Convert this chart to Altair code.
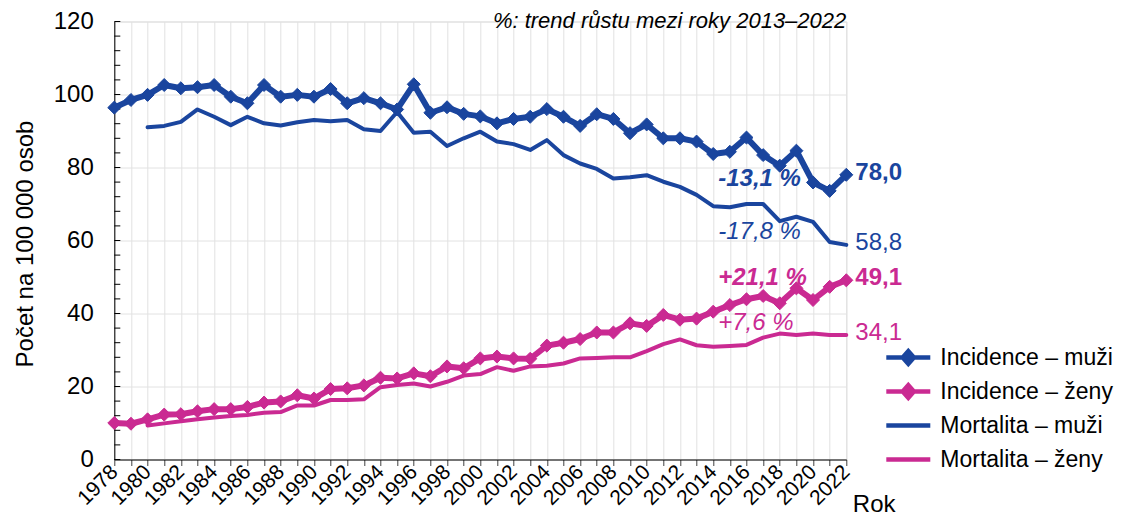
import altair as alt
import pandas as pd

# ---------------- data ----------------
years = list(range(1978, 2023))
years_mort = list(range(1980, 2023))

inc_m = [96.4, 98.5, 99.9, 102.6, 101.7, 102.0, 102.6, 99.4, 97.6, 102.6,
         99.4, 99.9, 99.4, 101.5, 97.6, 99.0, 97.6, 95.9, 102.8, 95.0,
         96.5, 94.7, 94.0, 92.1, 93.3, 93.9, 96.0, 93.9, 91.4, 94.6,
         93.3, 89.4, 91.8, 88.0, 88.0, 87.1, 83.7, 84.3, 88.2, 83.4,
         80.5, 84.6, 75.9, 73.6, 78.0]
inc_f = [10.0, 9.8, 11.0, 12.3, 12.4, 13.2, 13.8, 13.8, 14.4, 15.6,
         15.9, 17.6, 16.7, 19.3, 19.5, 20.3, 22.4, 22.2, 23.6, 22.8,
         25.5, 25.0, 27.7, 28.2, 27.7, 27.6, 31.2, 32.0, 33.0, 34.8,
         34.8, 37.3, 36.6, 39.6, 38.3, 38.6, 40.5, 42.3, 43.9, 44.8,
         42.8, 46.9, 43.7, 47.3, 49.1]
mort_m = [91.0, 91.4, 92.5, 95.9, 93.9, 91.6, 93.9, 92.1, 91.5, 92.4,
          93.0, 92.7, 93.0, 90.5, 90.0, 95.2, 89.5, 89.8, 85.9, 88.0,
          89.8, 87.1, 86.4, 84.8, 87.5, 83.4, 81.1, 79.6, 77.0, 77.3,
          77.9, 76.1, 74.7, 72.5, 69.4, 69.1, 70.0, 70.0, 65.3, 66.5,
          65.1, 59.6, 58.8]
mort_f = [9.3, 9.9, 10.5, 11.0, 11.5, 11.9, 12.2, 12.8, 13.0, 14.8,
          14.8, 16.3, 16.3, 16.5, 19.8, 20.4, 20.8, 20.0, 21.3, 23.0,
          23.4, 25.3, 24.3, 25.5, 25.7, 26.3, 27.7, 27.8, 28.0, 28.0,
          29.7, 31.6, 32.9, 31.3, 30.9, 31.1, 31.4, 33.4, 34.5, 34.1,
          34.5, 34.1, 34.1]

series_names = ["Incidence – muži", "Incidence – ženy",
                "Mortalita – muži", "Mortalita – ženy"]
trend_texts = ["-13,1 %", "+21,1 %", "-17,8 %", "+7,6 %"]
trend_start_year = 2014
y_label_values = [0, 20, 40, 60, 80, 100, 120]
y_minor_values = list(range(0, 121, 4))
title_text = "%: trend růstu mezi roky 2013–2022"

# ---------------- styles ----------------
BLUE = "#1A459E"
PINK = "#CA2A92"
GRID = "#e2e2e2"
FONT = "Liberation Sans"
colors = [BLUE, PINK, BLUE, PINK]
W, H = 732, 438

rows = []
for name, yrs, vals in [(series_names[0], years, inc_m),
                        (series_names[1], years, inc_f),
                        (series_names[2], years_mort, mort_m),
                        (series_names[3], years_mort, mort_f)]:
    for yr, v in zip(yrs, vals):
        rows.append({"serie": name, "rok": yr, "hodnota": v})
df = pd.DataFrame(rows)

xscale = alt.Scale(domain=[1978, 2022], nice=False, zero=False)
yscale = alt.Scale(domain=[0, 120], nice=False, zero=True)

X = alt.X("rok:Q", scale=xscale, title="Rok",
          axis=alt.Axis(values=years, format="d",
                        labelExpr="datum.value % 2 == 0 ? datum.label : ''",
                        labelAngle=-45, labelAlign="right", labelBaseline="middle",
                        labelFont=FONT, labelFontSize=21, labelColor="#000",
                        labelPadding=3, labelOverlap=False, labelFlush=False,
                        tickSize=6, tickColor="#404040", domainColor="#000",
                        grid=True, gridColor=GRID,
                        titleFont=FONT, titleFontSize=24, titleFontWeight="normal",
                        titleColor="#000", titleAlign="left",
                        titleBaseline="alphabetic", titleX=738, titleY=52))
Y = alt.Y("hodnota:Q", scale=yscale, title="Počet na 100 000 osob",
          axis=alt.Axis(values=y_label_values, ticks=False,
                        labelFont=FONT, labelFontSize=24, labelColor="#000",
                        labelPadding=21, labelFlush=False,
                        domainColor="#000", grid=True, gridColor=GRID,
                        titleFont=FONT, titleFontSize=24, titleFontWeight="normal",
                        titleColor="#000", titleBaseline="alphabetic",
                        titleAlign="center", titleX=-82, titleY=222))

def series(i):
    return alt.Chart(df).transform_filter(
        alt.datum.serie == series_names[i])

layers = []

# inward minor ticks on the y axis
layers.append(
    alt.Chart(pd.DataFrame({"hodnota": y_minor_values}))
    .mark_rule(color="#000", strokeWidth=1)
    .encode(y=Y, x=alt.value(0), x2=alt.value(6))
)

# mortality lines
for i in (3, 2):
    layers.append(series(i).mark_line(color=colors[i], strokeWidth=4,
                                      strokeJoin="round", strokeCap="round")
                  .encode(x=X, y=Y))
# incidence lines + diamonds
for i in (1, 0):
    layers.append(series(i).mark_line(color=colors[i], strokeWidth=6,
                                      strokeJoin="round", strokeCap="round")
                  .encode(x=X, y=Y))
    layers.append(series(i).mark_point(shape="diamond", filled=True, size=170,
                                       opacity=1, color=colors[i],
                                       stroke=colors[i], strokeWidth=1)
                  .encode(x=X, y=Y))

# end value labels
last_year = years[-1]
for i, vals in enumerate([inc_m, inc_f, mort_m, mort_f]):
    lab = pd.DataFrame({"rok": [last_year], "hodnota": [vals[-1]],
                        "text": [f"{vals[-1]:.1f}".replace(".", ",")]})
    layers.append(alt.Chart(lab).mark_text(
        align="left", baseline="middle", dx=9, dy=-2, font=FONT, fontSize=24,
        fontWeight="bold" if i < 2 else "normal", color=colors[i])
        .encode(x=X, y=Y, text="text:N"))

# trend annotations (anchored to the start year of the trend, the last value)
trend_dy = [4, -2, -13, -12]
for i, vals in enumerate([inc_m, inc_f, mort_m, mort_f]):
    lab = pd.DataFrame({"rok": [trend_start_year], "hodnota": [vals[-1]],
                        "text": [trend_texts[i]]})
    layers.append(alt.Chart(lab).mark_text(
        align="left", baseline="middle", dx=5, dy=trend_dy[i], font=FONT,
        fontSize=24, fontStyle="italic",
        fontWeight="bold" if i < 2 else "normal", color=colors[i])
        .encode(x=X, y=Y, text="text:N"))

# subtitle text at the top right of the plot
layers.append(
    alt.Chart(pd.DataFrame({"text": [title_text]}))
    .mark_text(align="right", baseline="alphabetic", font=FONT, fontSize=22,
               fontStyle="italic", color="#000")
    .encode(x=alt.value(W), y=alt.value(6.5), text="text:N")
)

# legend (from an invisible point layer)
inc_path = ("M-1,-0.1L-0.3,-0.1L0,-0.44L0.3,-0.1L1,-0.1L1,0.1"
            "L0.3,0.1L0,0.44L-0.3,0.1L-1,0.1Z")
mort_path = "M-1,-0.1L1,-0.1L1,0.1L-1,0.1Z"
leg = alt.Legend(title=None, orient="none", legendX=772, legendY=314,
                 labelFont=FONT, labelFontSize=23, labelColor="#000",
                 labelLimit=400, labelOffset=10, symbolSize=1936,
                 symbolStrokeWidth=0, symbolOpacity=1, rowPadding=-1,
                 padding=0)
layers.append(
    alt.Chart(df).mark_point(filled=True, opacity=0)
    .encode(x=X, y=Y,
            color=alt.Color("serie:N", scale=alt.Scale(domain=series_names,
                                                       range=colors),
                            legend=leg),
            shape=alt.Shape("serie:N", scale=alt.Scale(
                domain=series_names,
                range=[inc_path, inc_path, mort_path, mort_path]),
                legend=leg))
)

chart = alt.layer(*layers).properties(
    width=W, height=H,
    autosize=alt.AutoSizeParams(type="none"),
    padding={"left": 106.3, "top": 13.5, "right": 267.7, "bottom": 58.5},
).configure_view(stroke=None).configure(background="white")

chart.save("out.html", embed_options={"renderer": "svg", "actions": False})
